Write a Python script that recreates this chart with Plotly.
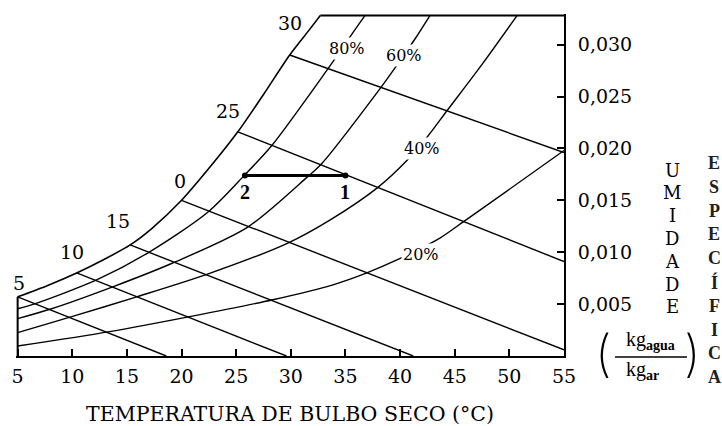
import plotly.graph_objects as go

# ---------------- data ----------------
# saturation curve (100 %)
T_SAT = [5, 7.75, 10.4, 12.9, 15.3, 17.3, 20.0, 22.6, 25.15, 27.5, 29.9, 31.6, 32.7]
W_SAT = [0.0057, 0.0068, 0.0080, 0.0093, 0.0107, 0.0123, 0.0150, 0.0182, 0.0216, 0.0252, 0.0290, 0.0313, 0.0328]

# relative humidity curves
T_RH80 = [5, 6.56, 12.23, 16.9, 22.4, 25.79, 28.26, 33.39, 34.03, 35.59, 36.78]
W_RH80 = [0.00455, 0.00503, 0.00733, 0.00992, 0.01385, 0.01745, 0.02028, 0.02766, 0.02862, 0.03102, 0.0328]

T_RH60 = [5, 8.11, 13.7, 19.19, 26.06, 31.47, 32.84, 38.15, 39.34, 41.36, 42.73]
W_RH60 = [0.0036, 0.00455, 0.00666, 0.00896, 0.01242, 0.01721, 0.01855, 0.02574, 0.02747, 0.03054, 0.0328]

T_RH40 = [5, 9.95, 15.9, 22.31, 29.73, 33.57, 37.97, 40.62, 42.45, 44.29, 47.5, 50.7]
W_RH40 = [0.00225, 0.00379, 0.0057, 0.00786, 0.01088, 0.01309, 0.01625, 0.01884, 0.02105, 0.02363, 0.0281, 0.0328]

T_RH20 = [5, 13.42, 20.75, 28.35, 33.85, 36.96, 39.71, 43.64, 45.75, 47.31, 55]
W_RH20 = [0.00096, 0.00235, 0.00379, 0.00542, 0.00686, 0.00801, 0.00925, 0.01136, 0.0129, 0.01405, 0.0198]

RH_NAMES = ["80%", "60%", "40%", "20%"]
RH_LABEL_T = [35.13, 40.35, 42.0, 41.9]
RH_LABEL_W = [0.02963, 0.02891, 0.01999, 0.00978]

# wet-bulb temperature lines
WB_LABELS = ["5", "10", "15", "0", "25", "30"]
WB_T_START = [5, 10.4, 15.3, 20.0, 25.15, 29.9]
WB_W_START = [0.0057, 0.0080, 0.0107, 0.0150, 0.0216, 0.0290]
WB_T_END = [18.6, 29.6, 41.2, 55, 55, 55]
WB_W_END = [0.0, 0.0, 0.0, 0.0006, 0.0091, 0.0196]
WB_LABEL_T = [5.14, 9.95, 14.16, 19.84, 24.23, 29.91]
WB_LABEL_W = [0.0070, 0.0100, 0.0130, 0.0169, 0.0236, 0.0321]

# process 1 -> 2
PROC_T = [35.0, 25.8]
PROC_W = [0.0174, 0.0174]
PROC_NAMES = ["1", "2"]

# chart frame
T_MIN, T_MAX = 5, 55
W_TOP = 0.0328

X_TICKS = [5, 10, 15, 20, 25, 30, 35, 40, 45, 50, 55]
Y_TICKS = [0.005, 0.010, 0.015, 0.020, 0.025, 0.030]

# ---------------- layout geometry ----------------
W, H = 722, 426
L, R, TOP, B = 16, 158, 14, 70
PW, PH = W - L - R, H - TOP - B


def paper(xp, yp):
    """page pixel -> paper coordinates (for decorative text placement)"""
    return (xp - L) / PW, 1 - (yp - TOP) / PH


LINE = dict(color="black", width=1.4)
CURVE = dict(color="black", width=1.4, shape="spline", smoothing=0.8)
SERIF = "DejaVu Serif"

fig = go.Figure()

# frame: left border, saturation curve, top border
fig.add_trace(go.Scatter(x=[T_MIN, T_MIN], y=[0, W_SAT[0]], mode="lines",
                         line=dict(color="black", width=2), hoverinfo="skip", showlegend=False))
fig.add_trace(go.Scatter(x=T_SAT, y=W_SAT, mode="lines",
                         line=dict(color="black", width=1.6, shape="spline", smoothing=0.8),
                         hoverinfo="skip", showlegend=False))
fig.add_trace(go.Scatter(x=[T_SAT[-1], T_MAX], y=[W_TOP, W_TOP], mode="lines",
                         line=dict(color="black", width=2), hoverinfo="skip", showlegend=False))

for tx, wy in [(T_RH80, W_RH80), (T_RH60, W_RH60), (T_RH40, W_RH40), (T_RH20, W_RH20)]:
    fig.add_trace(go.Scatter(x=tx, y=wy, mode="lines", line=CURVE,
                             hoverinfo="skip", showlegend=False))

for t0, w0, t1, w1 in zip(WB_T_START, WB_W_START, WB_T_END, WB_W_END):
    fig.add_trace(go.Scatter(x=[t0, t1], y=[w0, w1], mode="lines", line=LINE,
                             hoverinfo="skip", showlegend=False))

fig.add_trace(go.Scatter(x=PROC_T, y=PROC_W, mode="lines+markers",
                         line=dict(color="black", width=3),
                         marker=dict(color="black", size=6),
                         hoverinfo="skip", showlegend=False))

annotations = []
for name, tx, wy in zip(WB_LABELS, WB_LABEL_T, WB_LABEL_W):
    annotations.append(dict(x=tx, y=wy, xref="x", yref="y", text=name, showarrow=False,
                            xanchor="center", yanchor="middle",
                            font=dict(family=SERIF, size=19, color="black")))
for name, tx, wy in zip(RH_NAMES, RH_LABEL_T, RH_LABEL_W):
    annotations.append(dict(x=tx, y=wy, xref="x", yref="y", text=name, showarrow=False,
                            xanchor="center", yanchor="middle",
                            bgcolor="white", borderpad=1,
                            font=dict(family=SERIF, size=16, color="black")))
for name, tx, wy in zip(PROC_NAMES, PROC_T, PROC_W):
    annotations.append(dict(x=tx, y=wy, xref="x", yref="y", text="<b>%s</b>" % name,
                            showarrow=False, yshift=-17, xanchor="center", yanchor="middle",
                            font=dict(family="Liberation Serif", size=20, color="black")))

# vertical axis title letters
for i, ch in enumerate("UMIDADE"):
    px_, py_ = paper(672, 170 + 22.8 * i)
    annotations.append(dict(x=px_, y=py_, xref="paper", yref="paper", text=ch, showarrow=False,
                            xanchor="center", yanchor="middle",
                            font=dict(family=SERIF, size=18, color="black")))
for i, ch in enumerate("ESPECÍFICA"):
    px_, py_ = paper(714, 163 + 23.8 * i)
    annotations.append(dict(x=px_, y=py_, xref="paper", yref="paper", text="<b>%s</b>" % ch,
                            showarrow=False, xanchor="center", yanchor="middle",
                            font=dict(family="Liberation Serif", size=18, color="#202020")))

# unit fraction
for txt, xp, yp, size, fam in [("(", 603, 353, 50, "Inter"),
                               (")", 692, 353, 50, "Inter"),
                               ("kg<sub><b>agua</b></sub>", 650, 340, 20, "Liberation Serif"),
                               ("kg<sub><b>ar</b></sub>", 642, 371, 20, "Liberation Serif")]:
    px_, py_ = paper(xp, yp)
    f = dict(family=fam, size=size, color="black")
    if fam == "Inter":
        f["weight"] = 200
    annotations.append(dict(x=px_, y=py_, xref="paper", yref="paper", text=txt, showarrow=False,
                            xanchor="center", yanchor="middle", font=f))

x0p, y0p = paper(615, 357)
x1p, _ = paper(687, 357)
shapes = [dict(type="line", xref="paper", yref="paper", x0=x0p, x1=x1p, y0=y0p, y1=y0p,
               line=dict(color="black", width=1.5))]

fig.update_layout(
    width=W, height=H,
    margin=dict(l=L, r=R, t=TOP, b=B, pad=0, autoexpand=False),
    paper_bgcolor="white", plot_bgcolor="white",
    separators=",.",
    showlegend=False,
    annotations=annotations,
    shapes=shapes,
    xaxis=dict(range=[4.85, T_MAX], tickvals=X_TICKS, showgrid=False, zeroline=False,
               automargin=False,
               showline=True, linecolor="black", linewidth=2,
               ticks="inside", ticklen=7, tickwidth=2, tickcolor="black",
               ticklabelstandoff=2,
               tickfont=dict(family=SERIF, size=19, color="black"),
               title=dict(text="TEMPERATURA DE BULBO SECO (°C)", standoff=26,
                          font=dict(family=SERIF, size=20.5, color="black"))),
    yaxis=dict(range=[0, 0.03295], side="right", tickvals=Y_TICKS, tickformat=".3f",
               showgrid=False, zeroline=False, automargin=False,
               showline=True, linecolor="black", linewidth=2,
               ticks="inside", ticklen=7, tickwidth=2, tickcolor="black",
               ticklabelstandoff=8,
               tickfont=dict(family=SERIF, size=19, color="black")),
)

# remove the browser's default 8px page margin so the 722x426 figure fills the window exactly
fig.write_html("out.html", config={"displayModeBar": False},
               post_script="document.body.style.margin='0px';document.body.style.overflow='hidden';")
